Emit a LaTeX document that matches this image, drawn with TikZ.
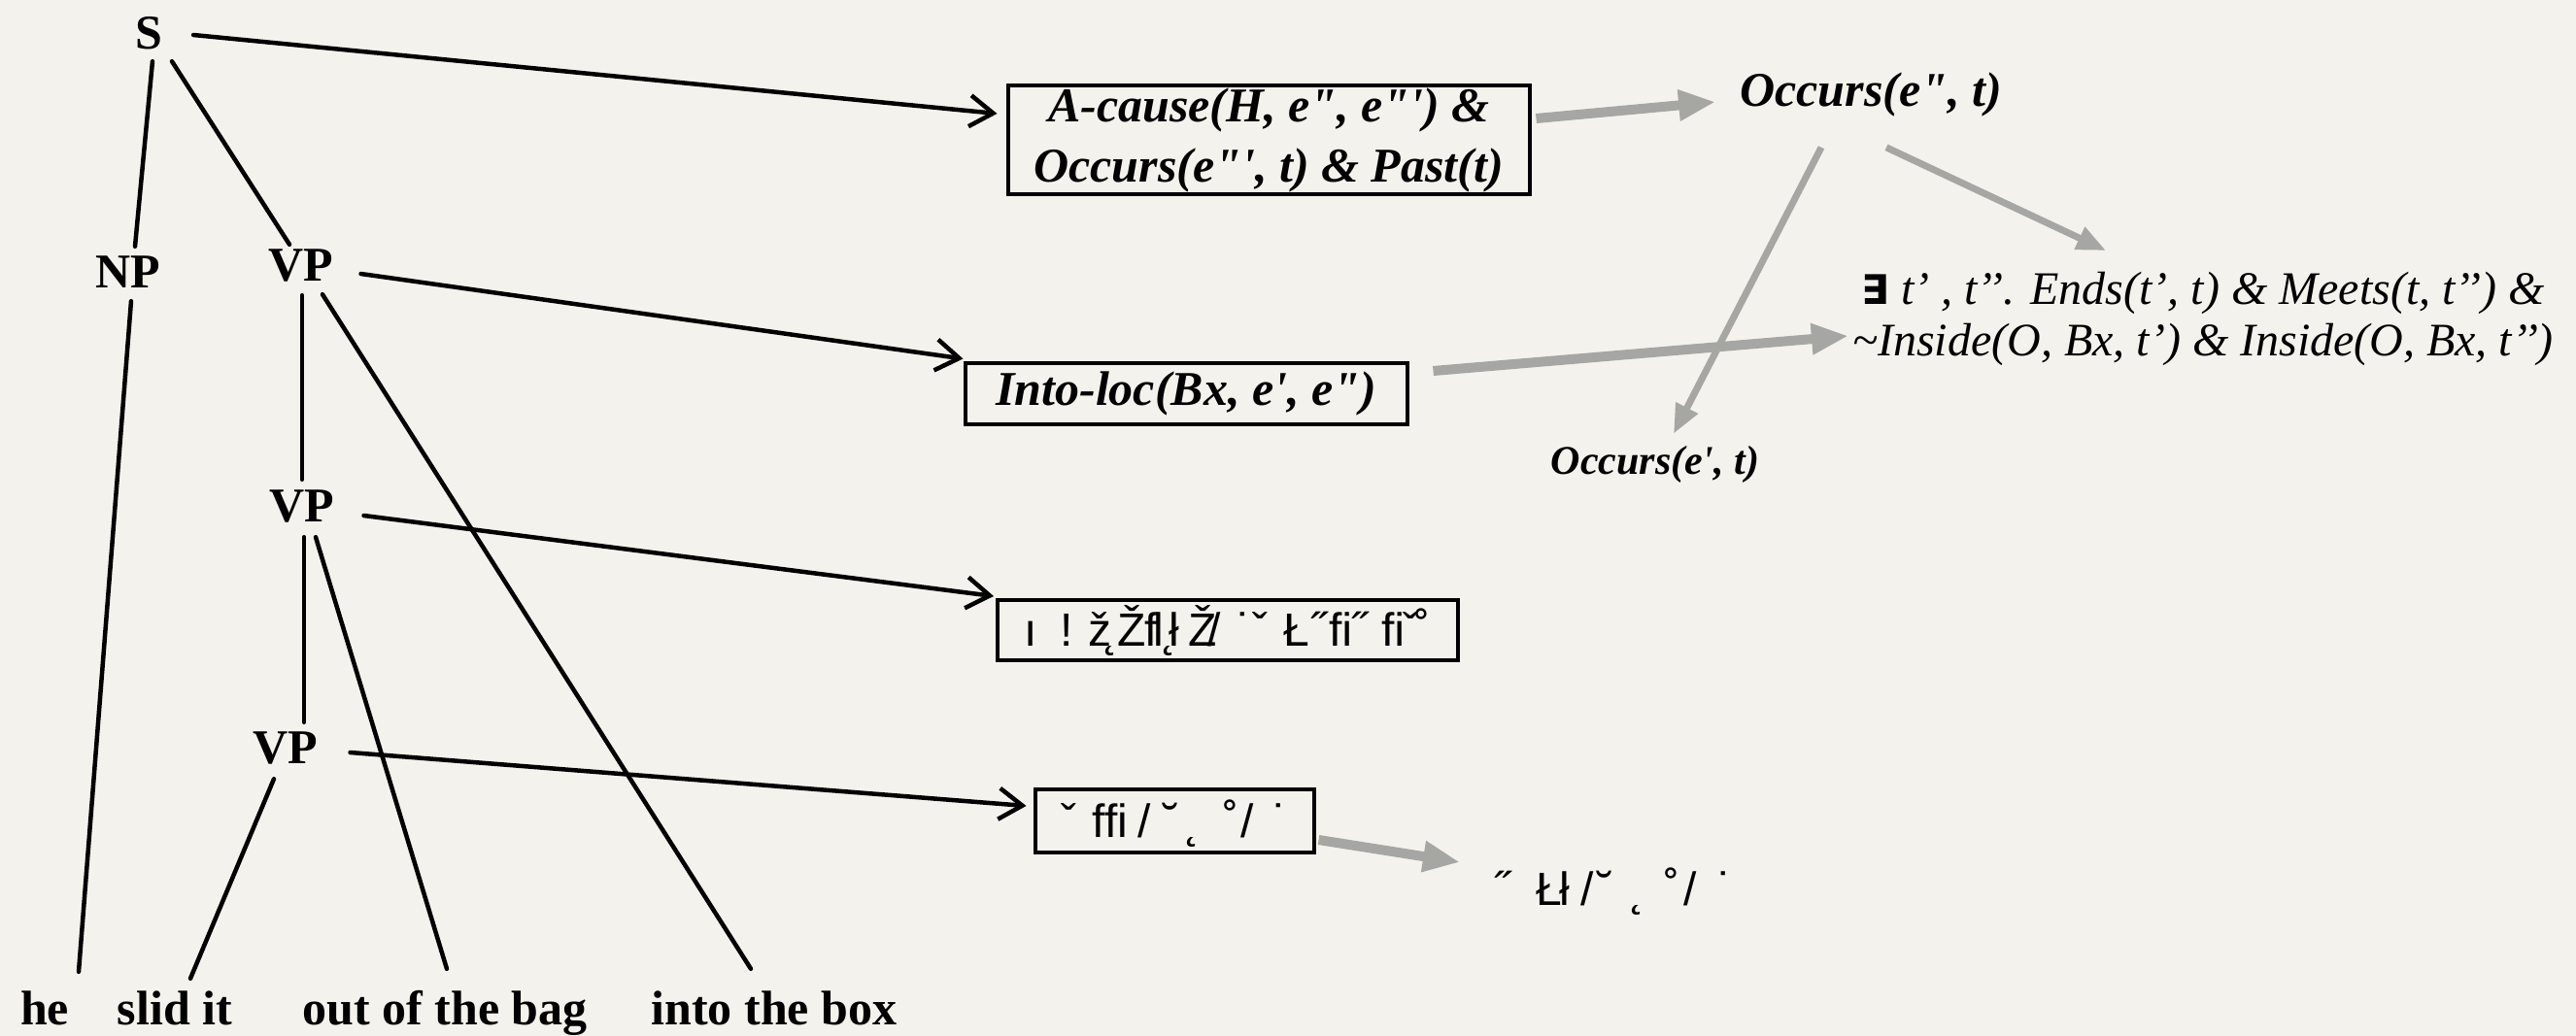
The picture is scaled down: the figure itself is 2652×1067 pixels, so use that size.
\documentclass[tikz,border=0pt]{standalone}
\usepackage{fontspec}
\setmainfont[Ligatures=TeXOff]{Liberation Serif}
\newfontfamily\gsans{Liberation Sans}
\newfontfamily\djv{DejaVu Sans}
\usetikzlibrary{arrows.meta}
\definecolor{bgcol}{RGB}{244,242,236}
\definecolor{arrgray}{RGB}{166,166,162}
\newcommand\sq{\symbol{39}}
\newcommand\dq{\symbol{34}}
\newcommand\gat[2]{\rlap{\kern#1pt\relax#2}}
\begin{document}
\begin{tikzpicture}[x=1pt,y=-1pt,
  tree/.style={font=\fontsize{50}{60}\selectfont\bfseries, inner sep=0pt, text height=33pt, text depth=0pt},
  leaf/.style={font=\fontsize{50}{60}\selectfont\bfseries, inner sep=0pt, text height=35pt, text depth=11pt, anchor=base},
  edge/.style={line width=4.5pt, line cap=round},
  link/.style={line width=4.5pt, line cap=round, -{Straight Barb[length=24pt,width=32pt]}},
  fbox/.style={draw, line width=4pt, inner sep=0pt, font=\fontsize{50}{62}\selectfont\bfseries\itshape, align=center},
  gbox/.style={draw, line width=4pt, inner sep=0pt, font=\gsans\fontsize{48}{52}\selectfont},
  formula/.style={inner sep=0pt, font=\fontsize{50}{60}\selectfont\bfseries\itshape},
  gthick/.style={draw=arrgray, line width=10pt, -{Triangle[length=38pt,width=30pt]}},
  gthin/.style={draw=arrgray, line width=7pt, -{Triangle[length=30pt,width=24pt]}}
]
\fill[bgcol] (0,0) rectangle (2652,1067);
\useasboundingbox (0,0) rectangle (2652,1067);

% tree
\node[tree] (S) at (153,34) {S};
\node[tree] (NP) at (132,280) {NP};
\node[tree] (VP1) at (310,273) {VP};
\node[tree] (VP2) at (311,521) {VP};
\node[tree] (VP3) at (294,770) {VP};
\node[leaf] (he) at (46,1055) {he};
\node[leaf] (slid) at (180,1055) {slid it};
\node[leaf] (out) at (458,1055) {out of the bag};
\node[leaf] (into) at (797,1055) {into the box};

\draw[edge] ([xshift=4pt,yshift=-12.5pt]S.south) -- ([xshift=7pt,yshift=9.5pt]NP.north);
\draw[edge] ([xshift=24pt,yshift=-12.5pt]S.south) -- ([xshift=-12pt,yshift=4.5pt]VP1.north);
\draw[edge] ([xshift=3pt,yshift=-13.5pt]NP.south) -- ([xshift=35pt,yshift=19pt]he.north);
\draw[edge] ([xshift=1pt,yshift=-14.5pt]VP1.south) -- ([xshift=0pt,yshift=10.5pt]VP2.north);
\draw[edge] ([xshift=22pt,yshift=-13.5pt]VP1.south) -- ([xshift=-24pt,yshift=22pt]into.north);
\draw[edge] ([xshift=2pt,yshift=-15.5pt]VP2.south) -- ([xshift=19pt,yshift=9.5pt]VP3.north);
\draw[edge] ([xshift=14pt,yshift=-15.5pt]VP2.south) -- ([xshift=2pt,yshift=22pt]out.north);
\draw[edge] ([xshift=-12pt,yshift=-15.5pt]VP3.south) -- ([xshift=16pt,yshift=12pt]slid.north);

% boxes
\node[fbox, minimum width=537pt, minimum height=112pt] (b1) at (1306,144)
  {A-cause(H, e\dq, e\dq\sq) \&\\Occurs(e\dq\sq, t) \& Past(t)};
\node[fbox, minimum width=455pt, minimum height=63pt] (b2) at (1221,405)
  {Into-loc(Bx, e\sq, e\dq)};
\node[gbox, minimum width=474pt, minimum height=62pt, text height=36pt, text depth=4pt] (b3) at (1264,649)
  {\hbox{\gat{0}{ı}\gat{37}{!}\gat{66}{ž}\gat{82}{˛}\gat{96}{Ž}\gat{124}{f}\gat{133}{l}\gat{142}{˛}\gat{149}{ł}\gat{170}{Ž}\gat{189}{/}\gat{219}{˙}\gat{235}{ˇ}\gat{267}{Ł}\gat{295}{˝}\gat{314}{ﬁ}\gat{337}{˝}\gat{369}{ﬁ}\gat{390}{ˇ}\gat{402}{˚}\kern420pt}};
\node[gbox, minimum width=287pt, minimum height=65pt, text height=37pt, text depth=3pt] (b4) at (1209,845)
  {\hbox{\gat{0}{ˇ}\gat{33}{ffi}\gat{80}{/}\gat{106}{˘}\gat{129}{˛}\gat{167}{˚}\gat{185}{/}\gat{218}{˙}\kern234pt}};

% formulas
\node[formula, anchor=base] (occ1) at (1926,110) {Occurs(e\dq, t)};
\node[formula, anchor=base, font=\fontsize{42}{50}\selectfont\bfseries\itshape] (occ2) at (1704,488) {Occurs(e\sq, t)};
\node[inner sep=0pt, anchor=north, align=center, font=\fontsize{48}{53}\selectfont\itshape] (ex) at (2268,280)
  {{\djv\bfseries\fontsize{42}{53}\selectfont ∃} t’ , t’’. Ends(t’, t) \& Meets(t, t’’) \&\\\symbol{126}Inside(O, Bx, t’) \& Inside(O, Bx, t’’)};
\node[inner sep=0pt, anchor=base west, text height=36pt, text depth=10pt,
  font=\gsans\fontsize{48}{52}\selectfont] (res) at (1538,932)
  {\hbox{\gat{0}{˝}\gat{43}{Ł}\gat{67}{ł}\gat{89}{/}\gat{106}{˘}\gat{140}{˛}\gat{175}{˚}\gat{195}{/}\gat{230}{˙}\kern245pt}};

% black links
\draw[link] ([xshift=32pt,yshift=-2pt]S.east) -- ([xshift=-9pt,yshift=27pt]b1.west);
\draw[link] ([xshift=28pt,yshift=-9pt]VP1.east) -- ([xshift=0pt,yshift=2pt]b2.north west);
\draw[link] ([xshift=30pt,yshift=-10pt]VP2.east) -- ([xshift=-2pt,yshift=2pt]b3.north west);
\draw[link] ([xshift=33pt,yshift=-5pt]VP3.east) -- ([xshift=-7pt,yshift=15pt]b4.west);

% gray arrows
\draw[gthick] ([xshift=5pt,yshift=22pt]b1.east) -- ([xshift=-25pt,yshift=-7pt]occ1.west);
\draw[gthin] ([xshift=-51pt,yshift=-31pt]occ1.south) -- ([xshift=19pt,yshift=12pt]occ2.north);
\draw[gthin] ([xshift=16pt,yshift=-31pt]occ1.south) -- ([xshift=-100pt,yshift=22pt]ex.north);
\draw[gthick] ([xshift=25pt,yshift=23pt]b2.east) -- ([xshift=-4pt,yshift=-17.5pt]ex.west);
\draw[gthick] ([xshift=3pt,yshift=-20pt]b4.east) -- ([xshift=-35pt,yshift=31pt]res.west);
\end{tikzpicture}
\end{document}
